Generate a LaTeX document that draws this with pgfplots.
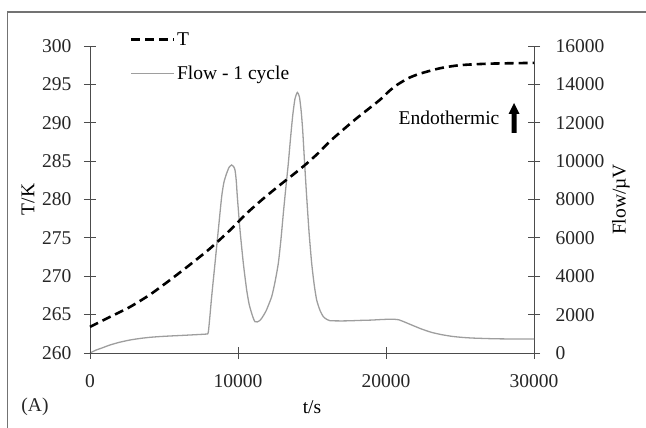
\documentclass[border=0pt]{standalone}
\usepackage{fontspec}
\setmainfont{Liberation Serif}
\usepackage{pgfplots}
\pgfplotsset{compat=1.18}

\pgfplotsset{
  dsc/.style={
    scale only axis,
    width=444pt, height=307pt,
    at={(90pt,75pt)}, anchor=south west,
    xmin=0, xmax=30000,
    font=\fontsize{19.5}{23}\selectfont,
    /pgf/number format/assume math mode=true,
    /pgf/number format/1000 sep={},
    scaled x ticks=false, scaled y ticks=false,
    tick align=center,
    major tick length=12pt,
    axis line style={black!70, line width=0.9pt},
    every tick/.style={black!70, line width=0.9pt},
    ticklabel style={black!85},
    clip=false,
  },
  Tline/.style={black, line width=2.6pt, dash pattern=on 9pt off 5pt},
  Fline/.style={black!38, line width=1.3pt},
}

\begin{document}
\begin{tikzpicture}
\useasboundingbox (0,0) rectangle (646pt,428pt);
\draw[black!55, line width=1.3pt] (7.5pt,0pt) -- (7.5pt,416pt) -- (646pt,416pt);

% heat flow, right axis
\begin{axis}[dsc,
  axis x line=none, axis y line*=right,
  ymin=0, ymax=16000,
  ytick={0,2000,...,16000},
  yticklabel style={xshift=12pt},
  ylabel={Flow/µV},
  ylabel style={at={(axis description cs:1.196,0.5)}, anchor=center, rotate=0},
  legend style={draw=none, fill=none, at={(axis description cs:0.083,1.056)}, anchor=north west,
    nodes={inner sep=1.5pt, anchor=west}, row sep=16pt},
  legend cell align=left,
  legend image code/.code={\draw[#1] (0pt,0pt) -- (43pt,0pt);},
]
\addlegendimage{Tline}
\addlegendentry{T}
\addplot[Fline, smooth, tension=0.35] coordinates {
(0,0)(400,150)(800,260)(1350,417)(2000,560)(2700,677)(3400,760)(4050,817)(4700,855)
(5400,886)(6100,912)(6750,938)(7400,965)(7880,990)(7990,1060)(8100,1900)(8220,2934)
(8446,4675)(8670,6410)(8896,8146)(9050,8900)(9234,9365)(9400,9680)(9572,9798)(9700,9720)
(9797,9537)(9880,9000)(9955,8146)(10135,6410)(10360,4675)(10586,3283)(10750,2550)
(10923,2069)(11050,1780)(11149,1631)(11300,1620)(11450,1680)(11599,1808)(11900,2200)
(12275,2934)(12500,3700)(12725,4675)(12900,5900)(13063,7280)(13230,8600)(13400,9887)
(13550,11200)(13700,12400)(13850,13250)(14010,13580)(14150,13350)(14270,12600)(14370,11622)
(14500,9900)(14640,8146)(14800,6300)(14978,4675)(15150,3550)(15315,2762)(15550,2200)
(15766,1892)(16000,1750)(16216,1683)(17000,1672)(17600,1680)(18300,1700)(19000,1715)
(19595,1740)(20200,1760)(20600,1755)(20880,1726)(21300,1600)(21700,1470)(22400,1250)
(23100,1070)(23800,950)(24500,863)(25200,810)(25900,777)(27300,742)(28600,730)(30000,725)};
\addlegendentry{Flow - 1 cycle}
\end{axis}

% temperature, left axis
\begin{axis}[dsc,
  axis x line*=bottom, axis y line*=left,
  ymin=260, ymax=300,
  ytick={260,265,...,300},
  xtick={0,10000,20000,30000},
  yticklabel style={xshift=-9pt},
  xticklabel style={yshift=-12pt},
  xlabel={t/s},
  xlabel style={at={(axis description cs:0.5,-0.176)}, anchor=center},
  ylabel={T/K},
  ylabel style={at={(axis description cs:-0.1396,0.5)}, anchor=center},
]
\addplot[Tline, smooth, tension=0.4] coordinates {
(0,263.4)(1350,264.7)(2700,266.0)(4050,267.6)(5400,269.5)(6750,271.5)(8100,273.6)
(9460,276.0)(10590,278.2)(11700,280.1)(12840,281.9)(13700,283.2)(14530,284.5)(15400,286.0)
(16220,287.6)(17050,289.0)(17900,290.4)(18750,291.7)(19600,293.0)(20200,294.1)(20720,294.9)
(21500,295.8)(22300,296.4)(23650,297.1)(25000,297.5)(27000,297.7)(30000,297.8)};
\end{axis}

\node[font=\fontsize{19.5}{23}\selectfont] at (449pt,310pt) {Endothermic};
\fill[black] (511.5pt,295pt) -- (516.5pt,295pt) -- (516.5pt,314pt) -- (519.5pt,314pt)
  -- (514pt,325pt) -- (508.5pt,314pt) -- (511.5pt,314pt) -- cycle;
\node[font=\fontsize{19.5}{23}\selectfont, black!85] at (35pt,21pt) {(A)};
\end{tikzpicture}
\end{document}
